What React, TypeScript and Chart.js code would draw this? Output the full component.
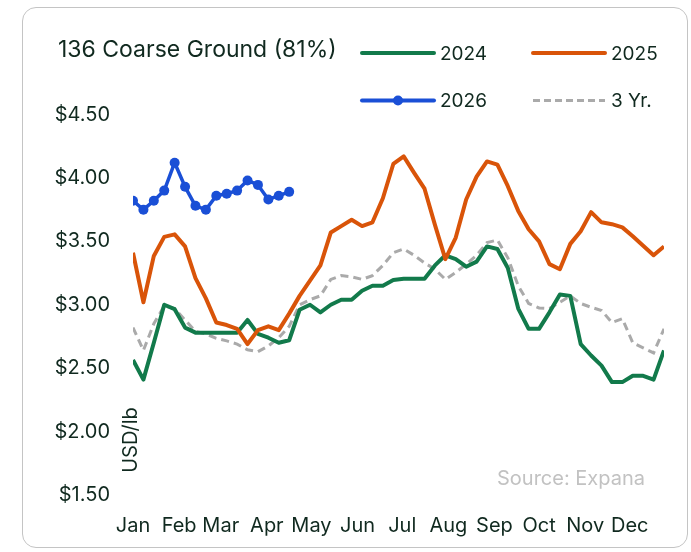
import React, { useEffect, useRef } from "react";
import { Chart, registerables } from "chart.js";

Chart.register(...registerables);

// ---------- data ----------
const months = ["Jan", "Feb", "Mar", "Apr", "May", "Jun", "Jul", "Aug", "Sep", "Oct", "Nov", "Dec"];
const monthStartDays = [0, 31, 59, 90, 120, 151, 181, 212, 243, 273, 304, 334];
const yTickValues = [1.5, 2.0, 2.5, 3.0, 3.5, 4.0, 4.5];

const series2024 = [
  2.565, 2.41, 2.70, 3.00, 2.965, 2.82, 2.78, 2.78, 2.78, 2.78, 2.78, 2.88, 2.77,
  2.74, 2.70, 2.72, 2.96, 3.00, 2.94, 3.00, 3.04, 3.04, 3.11, 3.15, 3.15, 3.195,
  3.205, 3.205, 3.205, 3.31, 3.39, 3.36, 3.30, 3.34, 3.46, 3.44, 3.29, 2.97, 2.81,
  2.81, 2.94, 3.08, 3.07, 2.69, 2.60, 2.52, 2.39, 2.39, 2.44, 2.44, 2.41, 2.64,
];
const series2025 = [
  3.41, 3.02, 3.385, 3.535, 3.555, 3.46, 3.21, 3.05, 2.86, 2.84, 2.81, 2.69, 2.80,
  2.83, 2.80, 2.93, 3.07, 3.19, 3.31, 3.57, 3.62, 3.67, 3.62, 3.65, 3.84, 4.11,
  4.17, 4.04, 3.915, 3.63, 3.36, 3.53, 3.83, 4.01, 4.13, 4.105, 3.935, 3.74, 3.595,
  3.50, 3.32, 3.28, 3.48, 3.58, 3.73, 3.65, 3.635, 3.61, 3.54, 3.465, 3.39, 3.46,
];
const series2026 = [
  3.82, 3.75, 3.82, 3.90, 4.12, 3.93, 3.78, 3.75, 3.86, 3.875, 3.90, 3.98, 3.945,
  3.83, 3.86, 3.89,
];
const series3Yr = [
  2.82, 2.64, 2.85, 2.99, 2.97, 2.88, 2.79, 2.77, 2.735, 2.715, 2.69, 2.645, 2.63,
  2.675, 2.74, 2.83, 3.00, 3.04, 3.07, 3.20, 3.23, 3.22, 3.20, 3.23, 3.31, 3.41,
  3.44, 3.39, 3.33, 3.28, 3.20, 3.255, 3.32, 3.39, 3.49, 3.51, 3.37, 3.15, 3.01,
  2.975, 2.97, 3.02, 3.07, 3.01, 2.98, 2.955, 2.86, 2.89, 2.70, 2.66, 2.62, 2.81,
];

const seriesNames = ["2024", "2025", "2026", "3 Yr."];
const chartTitle = "136 Coarse Ground (81%)";
const yAxisTitle = "USD/lb";
const sourceNote = "Source: Expana";

// ---------- style ----------
const FONT = "Inter, 'Noto Sans', sans-serif";
const TEXT = "#10291f";
const GREEN = "#127a4b";
const ORANGE = "#d95409";
const BLUE = "#1a4fd6";
const GRAY = "#aaaaaa";

const toPoints = (arr: number[]) => arr.map((v, i) => ({ x: i, y: v }));

const overlayPlugin = {
  id: "overlay",
  afterDraw(chart: any) {
    const ctx = chart.ctx as CanvasRenderingContext2D;
    ctx.save();
    // title
    ctx.fillStyle = TEXT;
    ctx.font = `23px ${FONT}`;
    ctx.textAlign = "left";
    ctx.textBaseline = "alphabetic";
    ctx.fillText(chartTitle, 58, 57);

    // legend
    const items = [
      { name: seriesNames[0], color: GREEN, x: 362, y: 53, dash: false, dot: false },
      { name: seriesNames[1], color: ORANGE, x: 533, y: 53, dash: false, dot: false },
      { name: seriesNames[2], color: BLUE, x: 362, y: 100.5, dash: false, dot: true },
      { name: seriesNames[3], color: GRAY, x: 533, y: 100.5, dash: true, dot: false },
    ];
    items.forEach((it) => {
      ctx.beginPath();
      ctx.strokeStyle = it.color;
      ctx.lineWidth = it.dash ? 3 : 4;
      ctx.lineCap = it.dash ? "butt" : "round";
      ctx.setLineDash(it.dash ? [7, 4] : []);
      ctx.moveTo(it.x, it.y);
      ctx.lineTo(it.x + 72, it.y);
      ctx.stroke();
      ctx.setLineDash([]);
      if (it.dot) {
        ctx.beginPath();
        ctx.fillStyle = it.color;
        ctx.arc(it.x + 36, it.y, 5, 0, Math.PI * 2);
        ctx.fill();
      }
      ctx.fillStyle = TEXT;
      ctx.font = `19px ${FONT}`;
      ctx.textBaseline = "middle";
      ctx.fillText(it.name, it.x + 78, it.y + 1);
    });

    // y axis title (rotated)
    ctx.save();
    ctx.translate(131, 440);
    ctx.rotate(-Math.PI / 2);
    ctx.font = `20px ${FONT}`;
    ctx.fillStyle = TEXT;
    ctx.textAlign = "center";
    ctx.textBaseline = "middle";
    ctx.fillText(yAxisTitle, 0, 0);
    ctx.restore();

    // source
    ctx.font = `20px ${FONT}`;
    ctx.fillStyle = "#c2c2c2";
    ctx.textAlign = "right";
    ctx.textBaseline = "alphabetic";
    ctx.fillText(sourceNote, 645, 485);
    ctx.restore();
  },
};

export default function App() {
  const ref = useRef<HTMLCanvasElement | null>(null);

  useEffect(() => {
    if (!ref.current) return;
    const chart = new Chart(ref.current, {
      type: "line",
      data: {
        datasets: [
          {
            label: seriesNames[2],
            data: toPoints(series2026),
            borderColor: BLUE,
            backgroundColor: BLUE,
            borderWidth: 3.5,
            pointRadius: 5,
            pointBackgroundColor: BLUE,
            pointBorderWidth: 0,
            tension: 0,
            borderJoinStyle: "round",
            order: 1,
          },
          {
            label: seriesNames[1],
            data: toPoints(series2025),
            borderColor: ORANGE,
            borderWidth: 4,
            pointRadius: 0,
            tension: 0,
            borderJoinStyle: "round",
            order: 2,
          },
          {
            label: seriesNames[0],
            data: toPoints(series2024),
            borderColor: GREEN,
            borderWidth: 4,
            pointRadius: 0,
            tension: 0,
            borderJoinStyle: "round",
            order: 3,
          },
          {
            label: seriesNames[3],
            data: toPoints(series3Yr),
            borderColor: GRAY,
            borderWidth: 3,
            borderDash: [8, 5],
            pointRadius: 0,
            tension: 0,
            order: 4,
          },
        ] as any,
      },
      options: {
        responsive: false,
        animation: false,
        devicePixelRatio: 1,
        layout: { padding: { left: 0, right: 27, top: 114.5, bottom: 0 } },
        plugins: {
          legend: { display: false },
          title: { display: false },
          tooltip: { enabled: false },
        },
        scales: {
          x: {
            type: "linear",
            min: 0,
            max: 51,
            grid: { display: false, drawTicks: false },
            border: { display: false },
            afterBuildTicks: (s: any) => {
              s.ticks = monthStartDays.map((d) => ({ value: d / 7 }));
            },
            afterFit: (s: any) => {
              s.height = 57;
            },
            ticks: {
              autoSkip: false,
              maxRotation: 0,
              padding: 19,
              color: TEXT,
              font: { family: FONT, size: 20 },
              callback: (_v: any, i: number) => months[i],
            },
          },
          y: {
            type: "linear",
            min: 1.5,
            max: 4.5,
            grid: { display: false, drawTicks: false },
            border: { display: false },
            afterBuildTicks: (s: any) => {
              s.ticks = yTickValues.map((v) => ({ value: v }));
            },
            afterFit: (s: any) => {
              s.width = 133;
            },
            ticks: {
              padding: 23,
              color: TEXT,
              font: { family: FONT, size: 20 },
              callback: (v: any) => "$" + Number(v).toFixed(2),
            },
          },
        },
      } as any,
      plugins: [overlayPlugin],
    });
    return () => chart.destroy();
  }, []);

  return (
    <div style={{ position: "absolute", left: 0, top: 0, width: 691, height: 552, background: "#fff" }}>
      <div
        style={{
          position: "absolute",
          left: 22,
          top: 7,
          width: 666,
          height: 541,
          boxSizing: "border-box",
          border: "1.5px solid #c4c4c4",
          borderRadius: 14,
        }}
      />
      <canvas
        ref={ref}
        width={691}
        height={552}
        style={{ position: "absolute", left: 0, top: 0, width: 691, height: 552, display: "block" }}
      />
    </div>
  );
}
